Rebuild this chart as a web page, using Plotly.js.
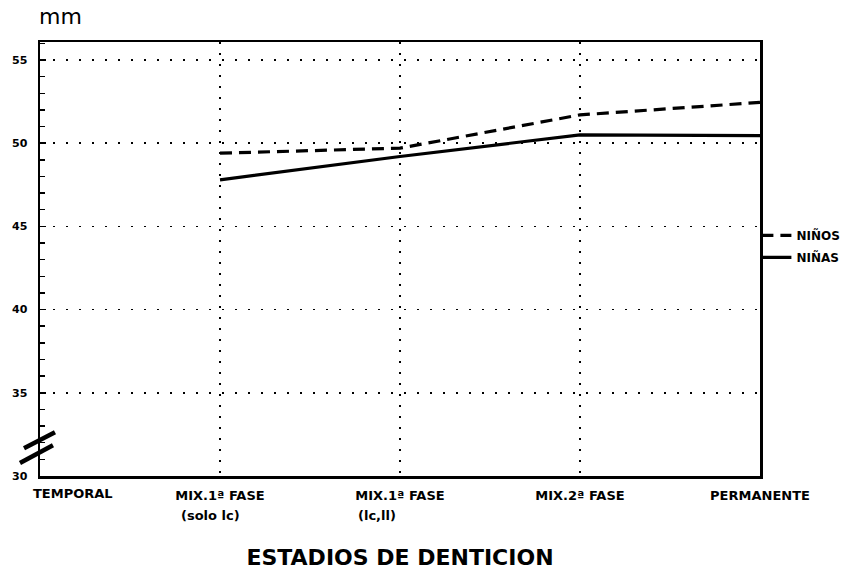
<!DOCTYPE html>
<html>
<head>
<meta charset="utf-8">
<script src="https://cdn.plot.ly/plotly-3.0.1.min.js"></script>
<style>html,body{margin:0;padding:0;background:#fff;}#chart{width:863px;height:576px;}</style>
</head>
<body>
<div id="chart"></div>
<script>
// ---- data ----
const stages = ["TEMPORAL", "MIX.1ª FASE", "MIX.1ª FASE", "MIX.2ª FASE", "PERMANENTE"];
const stageNotes = ["", "(solo lc)", "(lc,ll)", "", ""];
const ninos = [null, 49.4, 49.7, 51.7, 52.45];
const ninas = [null, 47.8, 49.2, 50.5, 50.45];
const yTickVals = [30, 35, 40, 45, 50, 55];
const yTickText = ["30", "35", "40", "45", "50", "55"];
const seriesNames = ["NIÑOS", "NIÑAS"];

const xIdx = stages.map((_, i) => i);
const bold = "DejaVu Sans";

const traces = [
  {x: xIdx, y: ninos, name: seriesNames[0], mode: "lines", legendgroup: "a",
   line: {color: "#000", width: 3.2, dash: "12px,7px"}, connectgaps: false},
  {x: xIdx, y: ninas, name: seriesNames[1], mode: "lines", legendgroup: "b",
   line: {color: "#000", width: 3.2}, connectgaps: false}
];

const annotations = [];
// first category label sits to the right of its tick (as in the original)
annotations.push({x: 0, xref: "x", y: 0, yref: "paper", yshift: -17, text: "<b>" + stages[0] + "</b>",
  showarrow: false, xanchor: "left", yanchor: "middle", xshift: -9,
  font: {family: bold, size: 13, color: "#000"}});
stageNotes.forEach((t, i) => {
  if (!t) return;
  annotations.push({x: i, xref: "x", y: -0.09, yref: "paper", text: "<b>" + t + "</b>",
    showarrow: false, xanchor: "center", yanchor: "middle",
    xshift: i === 1 ? -10 : -23,
    font: {family: bold, size: 13, color: "#000"}});
});
annotations.push({x: -0.004, xref: "paper", y: 1.058, yref: "paper", text: "mm",
  showarrow: false, xanchor: "left", yanchor: "middle",
  font: {family: "DejaVu Sans", size: 22, color: "#000"}});

const layout = {
  width: 863, height: 576,
  margin: {l: 40, r: 103, t: 42, b: 100},
  paper_bgcolor: "#fff", plot_bgcolor: "#fff",
  showlegend: true,
  legend: {x: 0.995, xanchor: "left", y: 0.588, yanchor: "top", traceorder: "grouped",
    tracegroupgap: 3, bgcolor: "rgba(0,0,0,0)", itemwidth: 30,
    font: {family: bold, size: 12, color: "#000", weight: "bold"}},
  xaxis: {
    range: [0, 4], tickvals: xIdx,
    ticktext: stages.map((s, i) => i === 0 ? " " : "<b>" + s + "</b>"),
    showgrid: true, gridcolor: "#000", gridwidth: 1.6, griddash: "2px,9px",
    zeroline: false, showline: true, linecolor: "#000", linewidth: 2.5, mirror: true,
    ticks: "", ticklabelstandoff: 6,
    tickfont: {family: bold, size: 13, color: "#000"},
    title: {text: "<b>ESTADIOS DE DENTICION</b>", standoff: 48,
      font: {family: bold, size: 22, color: "#000"}}
  },
  yaxis: {
    range: [30, 56.08], tickvals: yTickVals, ticktext: yTickText.map(s => "<b>" + s + "</b>"),
    showgrid: true, gridcolor: "#000", gridwidth: 1.6, griddash: "2px,11px",
    zeroline: false, showline: true, linecolor: "#000", linewidth: 2.5, mirror: true,
    ticks: "inside", ticklen: 6, tickwidth: 1.5, tickcolor: "#000",
    minor: {dtick: 1, tick0: 30, ticks: "inside", ticklen: 5, tickwidth: 1.5, tickcolor: "#000", showgrid: false},
    ticklabelstandoff: 8,
    tickfont: {family: bold, size: 11, color: "#000"}
  },
  shapes: [
    {type: "line", xref: "paper", yref: "paper", x0: -0.0222, y0: 0.064, x1: 0.0208, y1: 0.101,
     line: {color: "#000", width: 4.5}},
    {type: "line", xref: "paper", yref: "paper", x0: -0.0278, y0: 0.03, x1: 0.0180, y1: 0.071,
     line: {color: "#000", width: 4.5}}
  ],
  annotations: annotations
};

Plotly.newPlot("chart", traces, layout, {staticPlot: true, displayModeBar: false});
</script>
</body>
</html>
